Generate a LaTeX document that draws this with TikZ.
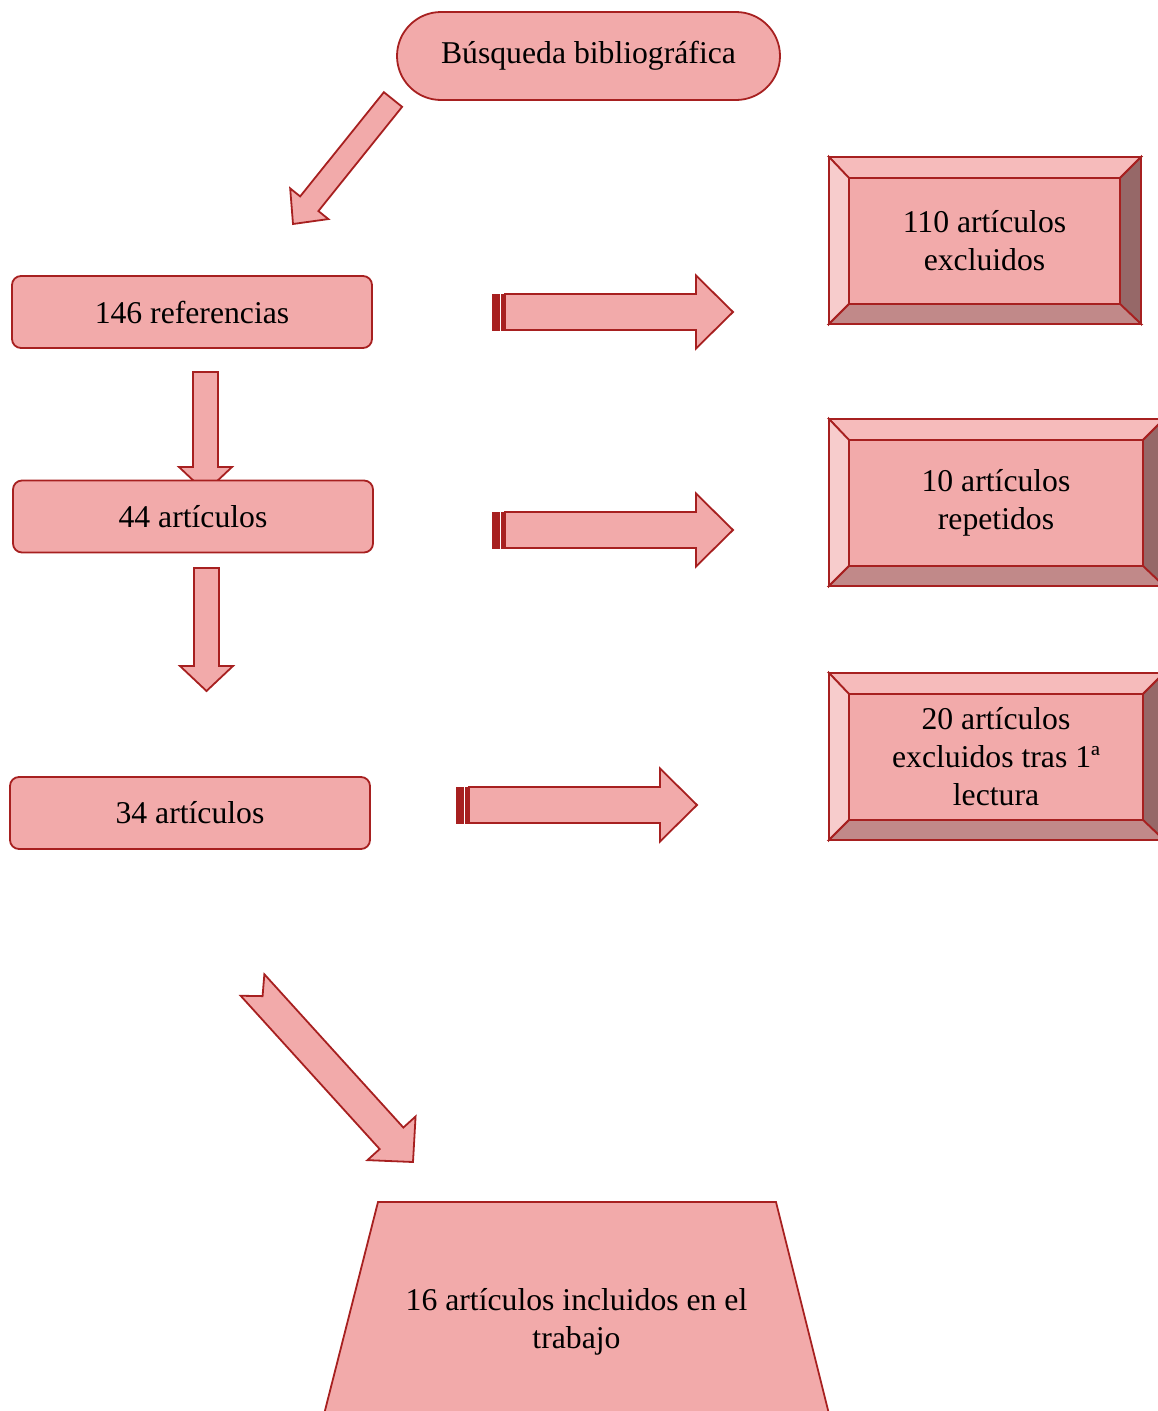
\documentclass[tikz,border=0pt]{standalone}
\usepackage{fontspec}
\setmainfont{Liberation Serif}
\usepackage{tikz}
\usetikzlibrary{
	positioning,
	shapes.geometric,
	calc
}
\definecolor{FlowFill}{RGB}{242,170,170}
\definecolor{FlowLine}{RGB}{167,32,32}
\definecolor{BevTop}{RGB}{246,187,187}
\definecolor{BevLeft}{RGB}{247,204,204}
\definecolor{BevRight}{RGB}{150,104,104}
\definecolor{BevBottom}{RGB}{193,137,137}

\tikzset{
	flowtext/.style={font=\fontsize{31.7}{38}\selectfont, align=center},
	flowbox/.style={
		flowtext,
		draw=FlowLine,
		fill=FlowFill,
		line width=1.8pt,
		rounded corners=9pt,
		minimum width=360pt,
		minimum height=72pt
	},
	bevelinner/.style={
		flowtext,
		draw=FlowLine,
		fill=FlowFill,
		line width=1.8pt,
		outer sep=0pt,
		minimum height=126pt
	},
	bevelface/.style={draw=FlowLine, line width=1.8pt, line join=miter},
	blockbody/.style={draw=FlowLine, fill=FlowFill, line width=1.8pt, line join=miter},
	stripe/.style={draw=FlowLine, fill=FlowLine, line width=0.6pt}
}

% block arrow: [notch]{tail}{tip}{half shaft}{half head}{head length}
\newcommand{\blockarrow}[6][0pt]{%
	\coordinate (ba-b) at ($(#3)!#6!(#2)$);
	\coordinate (ba-n) at ($(#2)!#1!(#3)$);
	\filldraw[blockbody]
		($(#2)!#4!90:(#3)$) -- ($(ba-b)!#4!90:(#3)$) -- ($(ba-b)!#5!90:(#3)$)
		-- (#3)
		-- ($(ba-b)!#5!-90:(#3)$) -- ($(ba-b)!#4!-90:(#3)$) -- ($(#2)!#4!-90:(#3)$)
		-- (ba-n) -- cycle;
}

% bevel frame round an inner node
\newcommand{\bevelframe}[1]{%
	\coordinate (#1-onw) at ($(#1.north west)+(-20pt,21pt)$);
	\coordinate (#1-one) at ($(#1.north east)+(21pt,21pt)$);
	\coordinate (#1-osw) at ($(#1.south west)+(-20pt,-20pt)$);
	\coordinate (#1-ose) at ($(#1.south east)+(21pt,-20pt)$);
	\filldraw[bevelface, fill=BevTop] (#1-onw) -- (#1-one) -- (#1.north east) -- (#1.north west) -- cycle;
	\filldraw[bevelface, fill=BevLeft] (#1-onw) -- (#1.north west) -- (#1.south west) -- (#1-osw) -- cycle;
	\filldraw[bevelface, fill=BevRight] (#1-one) -- (#1-ose) -- (#1.south east) -- (#1.north east) -- cycle;
	\filldraw[bevelface, fill=BevBottom] (#1-osw) -- (#1-ose) -- (#1.south east) -- (#1.south west) -- cycle;
}

\begin{document}
\begin{tikzpicture}[x=1pt,y=-1pt]

	\clip (0,0) rectangle (1158,1411);

	% arrow ends
	\coordinate (d1-tail) at (393,99.5);
	\coordinate (d1-tip) at (293,224);
	\coordinate (v1-tail) at (205.5,372);
	\coordinate (v1-tip) at (205.5,492);
	\coordinate (v2-tail) at (206.5,568);
	\coordinate (v2-tip) at (206.5,691);
	\coordinate (h1-tail) at (505,312);
	\coordinate (h1-tip) at (733,312);
	\coordinate (h2-tail) at (505,530);
	\coordinate (h2-tip) at (733,530);
	\coordinate (h3-tail) at (469,805);
	\coordinate (h3-tip) at (697,805);
	\coordinate (d2-tail) at (252.5,985);
	\coordinate (d2-tip) at (413,1162);

	\blockarrow{d1-tail}{d1-tip}{11.7pt}{24.5pt}{26pt}
	\blockarrow{v1-tail}{v1-tip}{12.5pt}{26.5pt}{25pt}
	\blockarrow{v2-tail}{v2-tip}{12.5pt}{26.5pt}{25pt}
	\blockarrow{h1-tail}{h1-tip}{18pt}{36.5pt}{37pt}
	\blockarrow{h2-tail}{h2-tip}{18pt}{36.5pt}{37pt}
	\blockarrow{h3-tail}{h3-tip}{18pt}{36.5pt}{37pt}
	\blockarrow[15pt]{d2-tail}{d2-tip}{16pt}{32.5pt}{32pt}

	% stripes at the tails
	\filldraw[stripe] (492,294) rectangle (499,330);
	\filldraw[stripe] (501,294) rectangle (504,330);
	\filldraw[stripe] (492,512) rectangle (499,548);
	\filldraw[stripe] (501,512) rectangle (504,548);
	\filldraw[stripe] (456,787) rectangle (463,823);
	\filldraw[stripe] (465,787) rectangle (468,823);

	\node[
	flowbox,
	rounded corners=44pt,
	minimum width=383pt,
	minimum height=88pt
	]
	(search) at (588.5,56)
	{Búsqueda bibliográfica};

	\node[flowbox] (refs) at (192,312) {146 referencias};
	\node[flowbox] (art44) at (193,516.5) {44 artículos};
	\node[flowbox] (art34) at (190,813) {34 artículos};

	\node[
	bevelinner,
	minimum width=271pt
	]
	(excl) at (984.5,241)
	{110 artículos\\excluidos};
	\bevelframe{excl}

	\node[
	bevelinner,
	minimum width=294pt
	]
	(rep) at (996,503)
	{10 artículos\\repetidos};
	\bevelframe{rep}

	\node[
	bevelinner,
	minimum width=294pt
	]
	(read) at (996,757)
	{20 artículos\\excluidos tras 1ª\\lectura};
	\bevelframe{read}

	% trapezium, runs past the lower edge
	\filldraw[blockbody] (378,1202) -- (776,1202) -- (835,1438) -- (318,1438) -- cycle;
	\node[flowtext] (incl) at (576.5,1322) {16 artículos incluidos en el\\trabajo};

\end{tikzpicture}
\end{document}
